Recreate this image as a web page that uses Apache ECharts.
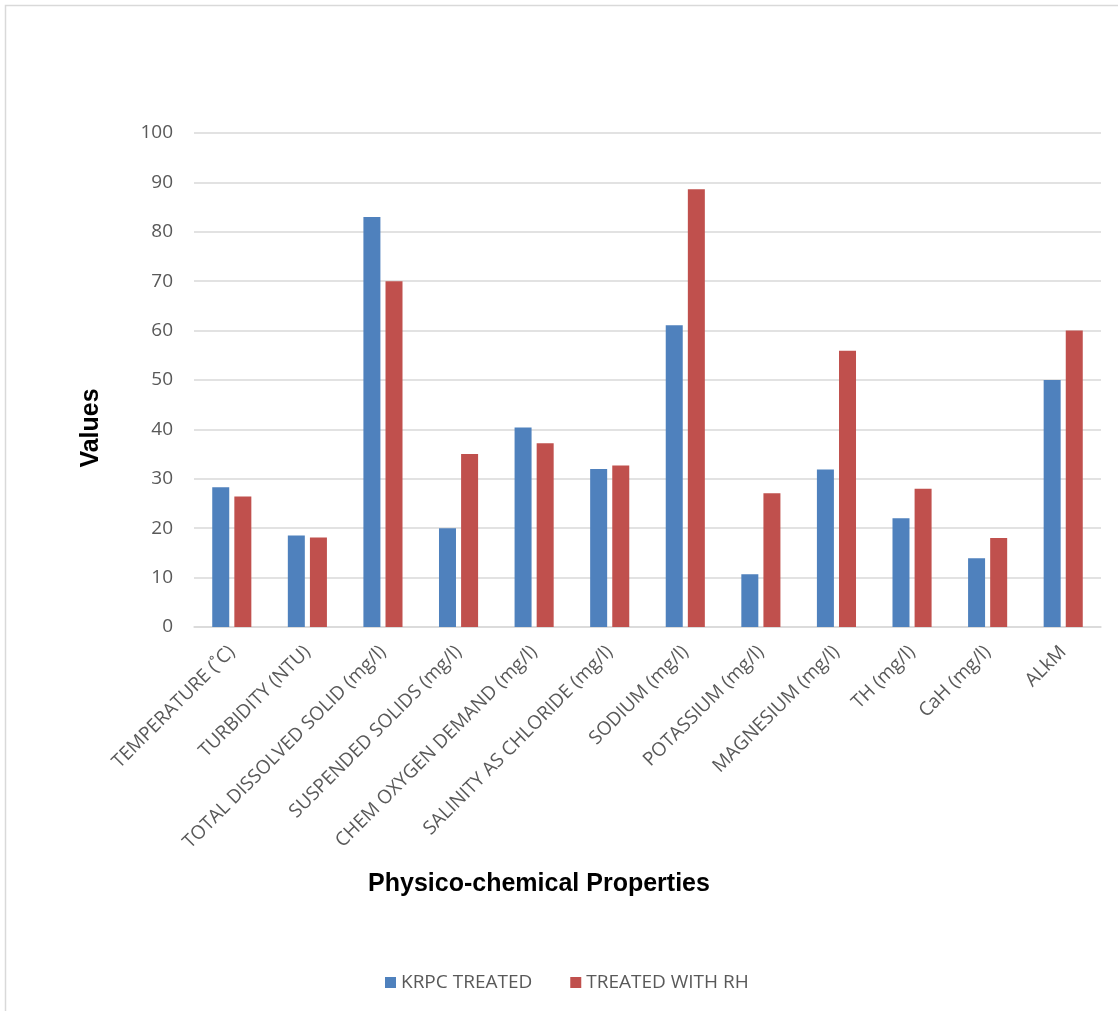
<!DOCTYPE html>
<html>
<head>
<meta charset="utf-8">
<script src="https://cdn.jsdelivr.net/npm/echarts@6/dist/echarts.min.js"></script>
<style>
html,body{margin:0;padding:0;background:#fff;}
#chart{width:1118px;height:1011px;}
</style>
</head>
<body>
<div id="chart"></div>
<script>
const categories = [
  'TEMPERATURE (˚C)', 'TURBIDITY (NTU)', 'TOTAL DISSOLVED SOLID (mg/l)',
  'SUSPENDED SOLIDS (mg/l)', 'CHEM OXYGEN DEMAND (mg/l)', 'SALINITY AS CHLORIDE (mg/l)',
  'SODIUM (mg/l)', 'POTASSIUM (mg/l)', 'MAGNESIUM (mg/l)', 'TH (mg/l)', 'CaH (mg/l)', 'ALkM'
];
const krpcTreated = [28.3, 18.5, 83, 20, 40.4, 32, 61.1, 10.7, 31.9, 22, 13.9, 50];
const treatedWithRH = [26.4, 18.1, 70, 35, 37.2, 32.7, 88.6, 27.1, 55.9, 28, 18, 60];
const seriesNames = ['KRPC TREATED', 'TREATED WITH RH'];
const yTicks = { min: 0, max: 100, interval: 10 };
const xTitle = 'Physico-chemical Properties';
const yTitle = 'Values';

const chart = echarts.init(document.getElementById('chart'), null, { renderer: 'canvas' });
const labelFont = '"Open Sans", "Liberation Sans", sans-serif';
const titleFont = 'Arial, "Liberation Sans", sans-serif';
chart.setOption({
  animation: false,
  backgroundColor: '#ffffff',
  graphic: [
    { type: 'rect', silent: true, z: -1,
      shape: { x: 5.5, y: 5.5, width: 1200, height: 1100 },
      style: { fill: 'none', stroke: '#d9d9d9', lineWidth: 1.5 } },
    { type: 'text', silent: true, x: 539, y: 884,
      style: { text: xTitle, fill: '#000', font: 'bold 25px ' + titleFont, align: 'center', verticalAlign: 'middle' } },
    { type: 'text', silent: true, x: 91, y: 428, rotation: Math.PI / 2,
      style: { text: yTitle, fill: '#000', font: 'bold 25px ' + titleFont, align: 'center', verticalAlign: 'middle' } }
  ],
  grid: { left: 194, right: 17, top: 133, bottom: 384, containLabel: false },
  legend: {
    data: seriesNames,
    top: 968,
    left: 380,
    itemWidth: 11, itemHeight: 11, itemGap: 38,
    icon: 'rect',
    textStyle: { color: '#595959', fontSize: 19, fontFamily: labelFont }
  },
  xAxis: {
    type: 'category',
    data: categories,
    axisLine: { lineStyle: { color: '#d9d9d9', width: 1.5 } },
    axisTick: { show: false },
    axisLabel: { rotate: 45, interval: 0, margin: 22, color: '#595959', fontSize: 19, fontFamily: labelFont }
  },
  yAxis: {
    type: 'value',
    min: yTicks.min, max: yTicks.max, interval: yTicks.interval,
    axisLine: { show: false },
    axisTick: { show: false },
    splitLine: { lineStyle: { color: '#d9d9d9', width: 1.5 } },
    axisLabel: { margin: 21, color: '#595959', fontSize: 19, fontFamily: labelFont }
  },
  series: [
    { name: seriesNames[0], type: 'bar', data: krpcTreated, barWidth: 17, barGap: '30%',
      itemStyle: { color: '#4F81BD' } },
    { name: seriesNames[1], type: 'bar', data: treatedWithRH, barWidth: 17, barGap: '30%',
      itemStyle: { color: '#C0504D' } }
  ]
});
</script>
</body>
</html>
